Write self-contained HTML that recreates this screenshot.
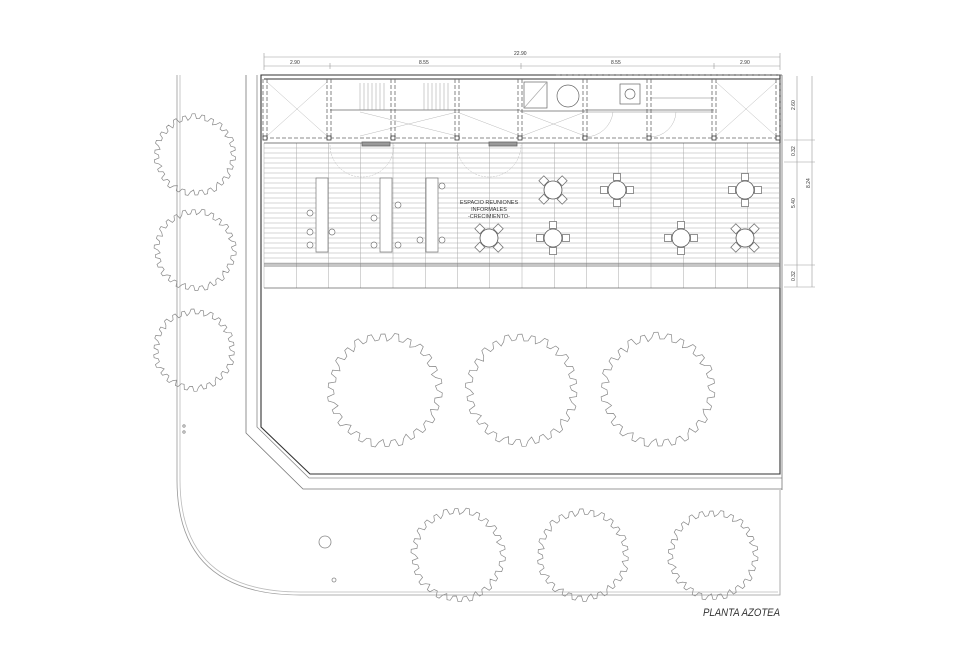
<!DOCTYPE html>
<html><head><meta charset="utf-8"><style>
html,body{margin:0;padding:0;background:#fff;}
svg{display:block}
text{font-family:"Liberation Sans",sans-serif;fill:#333}
</style></head><body>
<svg id="s" width="960" height="672" viewBox="0 0 960 672" xmlns="http://www.w3.org/2000/svg" fill="none" stroke="#888" stroke-width="0.8">
<path d="M177 75 V480 Q177 595 300 595 H780 V490" stroke="#999"/>
<path d="M180 75 V480 Q180 592 300 592 H778" stroke="#bbb"/>
<path d="M246 75 V433 L303 489 H782" stroke="#777"/>
<path d="M257 75 V427 L309 478 H782" stroke="#888"/>
<path d="M261 75 V427 L310 474 H780 V75 Z" stroke="#333" stroke-width="1.1"/>
<path d="M782 75 V490" stroke="#777"/>
<g stroke="#999" stroke-width="0.6">
<line x1="264" y1="57" x2="780" y2="57"/><line x1="264" y1="66" x2="780" y2="66"/>
<line x1="264" y1="53" x2="264" y2="70"/><line x1="780" y1="53" x2="780" y2="70"/>
<line x1="330" y1="63" x2="330" y2="69"/><line x1="521" y1="63" x2="521" y2="69"/><line x1="714" y1="63" x2="714" y2="69"/>
<line x1="797" y1="76" x2="797" y2="287"/><line x1="812" y1="76" x2="812" y2="287"/>
<line x1="784" y1="140" x2="815" y2="140"/><line x1="784" y1="162" x2="815" y2="162"/><line x1="784" y1="265" x2="815" y2="265"/><line x1="784" y1="287" x2="815" y2="287"/>
</g>
<g font-size="5" stroke="none">
<text x="514" y="55" fill="#555">22.90</text>
<text x="290" y="64">2.90</text><text x="419" y="64">8.55</text><text x="611" y="64">8.55</text><text x="740" y="64">2.90</text>
</g>
<g font-size="5" stroke="none">
<text transform="translate(795,110) rotate(-90)">2.60</text>
<text transform="translate(795,156) rotate(-90)">0.32</text>
<text transform="translate(795,208) rotate(-90)">5.40</text>
<text transform="translate(795,281) rotate(-90)">0.32</text>
<text transform="translate(810,188) rotate(-90)">8.24</text>
</g>
<g id="deck" stroke="#aaa" stroke-width="0.5"></g>
<line x1="264" y1="143" x2="780" y2="143" stroke="#555"/>
<line x1="264" y1="264" x2="780" y2="264" stroke="#666"/>
<line x1="264" y1="266" x2="780" y2="266" stroke="#666"/>
<line x1="264" y1="288" x2="780" y2="288" stroke="#666"/>
<g stroke="#666" stroke-width="0.7">
<line x1="264" y1="79" x2="780" y2="79" stroke="#333" stroke-width="1"/>
<line x1="264" y1="138" x2="780" y2="138" stroke-dasharray="4 2"/>
<line x1="556" y1="75" x2="782" y2="75" stroke-dasharray="4 2"/>
<line x1="330" y1="110" x2="520" y2="110"/>
<line x1="520" y1="111" x2="585" y2="111"/>
<line x1="585" y1="110" x2="714" y2="110"/>
<line x1="585" y1="112" x2="714" y2="112" stroke="#aaa"/>
<rect x="524" y="82" width="23" height="26"/>
<line x1="524" y1="108" x2="547" y2="82" stroke="#aaa"/>
<circle cx="568" cy="96" r="11"/>
<rect x="620" y="84" width="20" height="20"/><circle cx="630" cy="94" r="5"/>
<line x1="650" y1="98" x2="714" y2="98" stroke="#aaa"/>
</g>
<g stroke="#bbb" stroke-width="0.5">
<path d="M267 82 L327 136 M327 82 L267 136"/>
<path d="M716 82 L776 136 M776 82 L716 136"/>
<path d="M360 136 L457 112 L520 136 M360 112 L457 136"/>
<path d="M522 112 L585 136 M585 112 L522 136"/>
<path d="M330 145 A32 32 0 0 0 394 145 M457 145 A32 32 0 0 0 521 145" stroke-dasharray="2 1"/>
<path d="M585 137 A28 28 0 0 0 613 112 M650 137 A26 26 0 0 0 676 112" />
</g>
<g id="stairs" stroke="#999" stroke-width="0.5"></g>
<rect x="362" y="142" width="28" height="4" fill="#999" stroke="#666"/>
<rect x="489" y="142" width="28" height="4" fill="#999" stroke="#666"/>
<g id="cols"></g>
<g fill="#fff" stroke="#777" stroke-width="0.7">
<rect x="316" y="178" width="12" height="74"/>
<rect x="380" y="178" width="12" height="74"/>
<rect x="426" y="178" width="12" height="74"/>
<circle cx="310" cy="213" r="3"/><circle cx="310" cy="232" r="3"/><circle cx="310" cy="245" r="3"/><circle cx="332" cy="232" r="3"/>
<circle cx="374" cy="218" r="3"/><circle cx="374" cy="245" r="3"/><circle cx="398" cy="205" r="3"/><circle cx="398" cy="245" r="3"/>
<circle cx="420" cy="240" r="3"/><circle cx="442" cy="186" r="3"/><circle cx="442" cy="240" r="3"/>
</g>
<g id="tables" fill="#fff" stroke="#555" stroke-width="0.8"></g>
<g font-size="5.5" stroke="none" text-anchor="middle" fill="#333">
<text x="489" y="204">ESPACIO REUNIONES</text>
<text x="489" y="211">INFORMALES</text>
<text x="489" y="218">-CRECIMIENTO-</text>
</g>
<g id="trees" stroke="#888" stroke-width="0.7"></g>
<circle cx="325" cy="542" r="6" stroke="#888"/>
<circle cx="334" cy="580" r="2" stroke="#888"/>
<circle cx="184" cy="426" r="1.2" stroke="#888"/><circle cx="184" cy="432" r="1.2" stroke="#888"/>
<text x="703" y="616" font-size="11" font-style="italic" stroke="none" fill="#111" textLength="77" lengthAdjust="spacingAndGlyphs">PLANTA AZOTEA</text>
</svg>
<script>
var NS="http://www.w3.org/2000/svg";
function el(p,t,a){var e=document.createElementNS(NS,t);for(var k in a)e.setAttribute(k,a[k]);p.appendChild(e);return e;}
var d=document.getElementById('deck');
for(var y=148;y<264;y+=5)el(d,'line',{x1:264,y1:y,x2:780,y2:y});
for(var x=264;x<=780;x+=32.25)el(d,'line',{x1:x,y1:143,x2:x,y2:288});
var st=document.getElementById('stairs');
[[360,384],[424,450]].forEach(function(r){for(var x=r[0];x<=r[1];x+=4)el(st,'line',{x1:x,y1:83,x2:x,y2:110});});
var c=document.getElementById('cols');
[265,329,393,457,520,585,649,714,778].forEach(function(x){
el(c,'line',{x1:x-2,y1:79,x2:x-2,y2:138,stroke:'#666','stroke-dasharray':'4 2'});
el(c,'line',{x1:x+2,y1:79,x2:x+2,y2:138,stroke:'#666','stroke-dasharray':'4 2'});
el(c,'rect',{x:x-2,y:136,width:4,height:4,stroke:'#333',fill:'#fff'});});
var t=document.getElementById('tables');
[[553,190,1],[617,190,0],[745,190,0],[489,238,1],[553,238,0],[681,238,0],[745,238,1]].forEach(function(a){
var cx=a[0],cy=a[1];
for(var i=0;i<4;i++){var ang=(a[2]?Math.PI/4:0)+i*Math.PI/2;var px=cx+13*Math.cos(ang),py=cy+13*Math.sin(ang);
el(t,'rect',{x:px-3.5,y:py-3.5,width:7,height:7,transform:'rotate('+(a[2]?45:0)+' '+px+' '+py+')',stroke:'#777'});}
el(t,'circle',{cx:cx,cy:cy,r:9});});
var tr=document.getElementById('trees');
function tree(cx,cy,r,seed){var pts=[],n=26;for(var i=0;i<n;i++){var a0=i/n*2*Math.PI,a1=(i+0.5)/n*2*Math.PI,s=((seed*7+i*13)%5)/5;
var r1=r*(0.9+0.05*s),r2=r*(1.0+0.04*s);
pts.push([cx+r1*Math.cos(a0),cy+r1*Math.sin(a0)]);pts.push([cx+r2*Math.cos(a0+0.05),cy+r2*Math.sin(a0+0.05)]);
pts.push([cx+r2*Math.cos(a1),cy+r2*Math.sin(a1)]);pts.push([cx+r1*0.97*Math.cos(a1+0.04),cy+r1*0.97*Math.sin(a1+0.04)]);}
el(tr,'path',{d:'M'+pts.map(function(p){return p[0].toFixed(1)+' '+p[1].toFixed(1)}).join(' L')+' Z'});}
tree(195,155,40,1);tree(195,250,40,2);tree(194,350,40,3);
tree(385,390,56,4);tree(522,390,55,5);tree(658,390,56,6);
tree(458,555,46,7);tree(583,555,45,8);tree(713,555,44,9);
</script>
</body></html>
